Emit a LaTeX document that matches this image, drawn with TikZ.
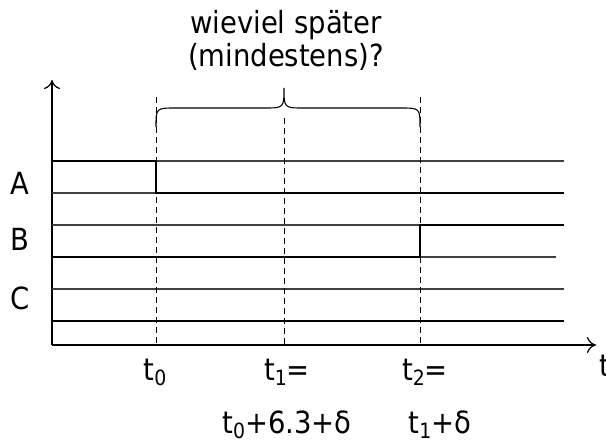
\documentclass[tikz,border=0pt]{standalone}
\usepackage{fontspec}
\setmainfont{DejaVu Sans Condensed}
\usetikzlibrary{arrows.meta}
\newcommand\mysub[1]{\raisebox{-5pt}{\fontsize{21}{21}\selectfont #1}}
\begin{document}
\begin{tikzpicture}[x=1pt,y=-1pt,
  lbl/.style={font=\fontsize{30.5}{34}\selectfont, inner sep=0pt},
  axis/.style={line width=1.8pt,-{To[length=9pt,width=16pt,line width=1.2pt]}},
  sig/.style={line width=2.4pt},
  base/.style={line width=1.1pt, black!75},
  guide/.style={line width=1pt, dash pattern=on 6pt off 4pt},
  bracestyle/.style={line width=1.1pt}]
\useasboundingbox (0,0) rectangle (606,447);
% axes
\coordinate (O) at (52,345);
\coordinate (ytop) at (52,80);
\coordinate (xend) at (596,345);
\draw[axis] (O) -- (ytop);
\draw[axis] (O) -- (xend);
% time coordinates
\coordinate (t0top) at (156,97);
\coordinate (t0bot) at (156,345);
\coordinate (t1top) at (284,118);
\coordinate (t1bot) at (284,345);
\coordinate (t2top) at (420,97);
\coordinate (t2bot) at (420,345);
% thin baselines
\draw[base] (52,161) -- (564,161);
\draw[base] (52,193) -- (156,193);
\draw[base] (52,225) -- (420,225);
\draw[base] (420,257) -- (556,257);
\draw[base] (52,289) -- (564,289);
% signals
\draw[sig] (52,161) -- (156,161) -- (156,193) -- (564,193);
\draw[sig] (52,257) -- (420,257) -- (420,225) -- (564,225);
\draw[sig] (52,321) -- (564,321);
% dashed guides
\draw[guide] (t0top) -- (t0bot);
\draw[guide] (t1top) -- (t1bot);
\draw[guide] (t2top) -- (t2bot);
% brace
\coordinate (bl) at (156,127);
\coordinate (bm) at (284,88);
\coordinate (br) at (420,127);
\draw[bracestyle] (bl) .. controls (156,108) .. (176,108) -- (264,108)
  .. controls (284,108) .. (bm) .. controls (284,108) .. (304,108) -- (400,108)
  .. controls (420,108) .. (br);
% labels
\node[lbl] (q1) at (286,25) {wieviel später};
\node[lbl] (q2) at (286,57) {(mindestens)?};
\node[lbl] (la) at (20,183) {A};
\node[lbl] (lb) at (20,239) {B};
\node[lbl] (lc) at (20,298) {C};
\node[lbl, anchor=west] (lt) at (599,366) {t};
\node[lbl, anchor=base] (l0) at (155,380) {t\mysub{0}};
\node[lbl, anchor=base] (l1) at (287,380) {t\mysub{1}=};
\node[lbl, anchor=base] (l2) at (425,380) {t\mysub{2}=};
\node[lbl, anchor=base] (l1b) at (287,433) {t\mysub{0}+6.3+δ};
\node[lbl, anchor=base] (l2b) at (440,433) {t\mysub{1}+δ};
\end{tikzpicture}
\end{document}
